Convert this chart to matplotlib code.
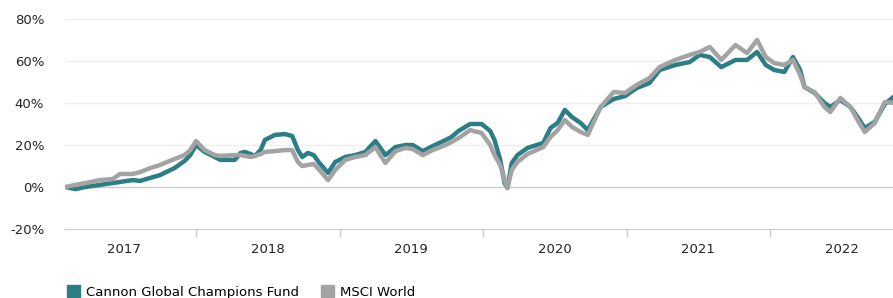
import numpy as np
import matplotlib
matplotlib.use("Agg")
import matplotlib.pyplot as plt
from matplotlib.patches import Patch
from matplotlib.ticker import FuncFormatter

# dates as decimal years, values in % cumulative return
dates = [2017.09, 2017.16, 2017.23, 2017.33, 2017.42, 2017.47, 2017.56, 2017.61, 2017.68, 2017.75,
         2017.78, 2017.85, 2017.92, 2017.96, 2018.00, 2018.06, 2018.13, 2018.17, 2018.27, 2018.31,
         2018.34, 2018.38, 2018.41, 2018.45, 2018.48, 2018.55, 2018.62, 2018.67, 2018.71, 2018.74,
         2018.78, 2018.82, 2018.86, 2018.92, 2018.97, 2019.04, 2019.11, 2019.18, 2019.25, 2019.32,
         2019.39, 2019.46, 2019.51, 2019.58, 2019.65, 2019.74, 2019.78, 2019.83, 2019.91, 2019.99,
         2020.05, 2020.08, 2020.12, 2020.15, 2020.17, 2020.20, 2020.24, 2020.31, 2020.42, 2020.47,
         2020.52, 2020.57, 2020.62, 2020.68, 2020.73, 2020.82, 2020.91, 2020.99, 2021.07, 2021.16,
         2021.23, 2021.34, 2021.44, 2021.51, 2021.58, 2021.66, 2021.76, 2021.84, 2021.91, 2021.97,
         2022.03, 2022.10, 2022.16, 2022.21, 2022.24, 2022.31, 2022.38, 2022.42, 2022.49, 2022.56,
         2022.61, 2022.66, 2022.73, 2022.80, 2022.86]

fund = [0.0, -1.0, 0.0, 1.0, 1.9, 2.4, 3.3, 2.9, 4.3, 5.7,
        6.7, 9.0, 12.4, 15.2, 20.0, 16.7, 14.3, 12.9, 12.9, 16.2,
        16.7, 15.7, 14.8, 17.6, 22.4, 24.8, 25.2, 24.3, 17.6, 14.3,
        16.2, 15.2, 11.4, 6.7, 11.9, 14.3, 15.2, 16.7, 21.9, 15.2,
        19.0, 20.0, 20.0, 17.1, 19.5, 22.4, 23.8, 26.7, 30.0, 30.0,
        26.7, 22.4, 12.9, 1.9, -0.5, 11.4, 15.2, 18.6, 21.0, 28.1,
        30.5, 36.7, 33.3, 30.5, 27.1, 38.1, 41.9, 43.3, 47.1, 49.5,
        55.7, 58.1, 59.5, 62.9, 61.9, 57.1, 60.5, 60.5, 64.3, 58.1,
        55.7, 54.8, 61.9, 55.7, 47.6, 44.8, 40.0, 38.1, 41.4, 38.1,
        33.3, 28.1, 31.0, 39.5, 42.9]

msci = [0.0, 1.0, 1.9, 3.3, 3.8, 6.2, 6.2, 7.1, 9.0, 10.5,
        11.4, 13.3, 15.2, 17.6, 21.9, 17.6, 15.2, 14.8, 15.2, 15.2,
        14.8, 14.3, 14.8, 15.7, 16.7, 17.1, 17.6, 17.6, 11.9, 10.0,
        10.5, 11.0, 8.1, 3.3, 8.1, 12.9, 14.3, 15.2, 19.0, 11.4,
        17.1, 18.6, 18.1, 15.2, 17.6, 20.0, 21.4, 23.3, 27.1, 25.7,
        20.0, 15.2, 10.5, 3.3, -0.5, 8.1, 11.9, 15.7, 19.0, 23.8,
        27.1, 31.9, 28.6, 26.2, 24.8, 38.1, 45.2, 44.8, 48.6, 51.9,
        57.1, 60.5, 62.9, 64.3, 66.7, 60.5, 67.6, 63.8, 70.0, 61.9,
        59.0, 58.1, 60.5, 53.3, 47.6, 45.2, 38.1, 35.7, 42.4, 38.1,
        31.9, 26.2, 30.5, 40.5, 40.0]

years = [2017, 2018, 2019, 2020, 2021, 2022]
fund_name = "Cannon Global Champions Fund"
msci_name = "MSCI World"
teal = "#2b7e85"
grey = "#a3a3a3"

fig = plt.figure(figsize=(8.93, 2.98), dpi=100)
ax = fig.add_axes([65 / 893, 1 - 229 / 298, 1 - 65 / 893, 210 / 298])

ax.plot(dates, fund, color=teal, lw=3.2, solid_joinstyle="round", solid_capstyle="round", zorder=3)
ax.plot(dates, msci, color=grey, lw=3.2, solid_joinstyle="round", solid_capstyle="round", zorder=4)

ax.set_xlim(2017.087, 2022.857)
ax.set_ylim(-20, 80)

ax.set_yticks([-20, 0, 20, 40, 60, 80])
ax.yaxis.set_major_formatter(FuncFormatter(lambda v, p: f"{v:.0f}%"))
for y in [20, 40, 60, 80]:
    ax.axhline(y, color="#efefef", lw=1, zorder=1)
ax.axhline(0, color="#cccccc", lw=1, zorder=1)

# year boundaries as ticks, labels at mid-year
ax.set_xticks(years[1:])
ax.set_xticklabels([])
ax.set_xticks([y + 0.5 for y in years], minor=True)
ax.set_xticklabels([str(y) for y in years], minor=True)
ax.tick_params(axis="x", which="major", length=6, color="#cccccc", width=1)
ax.tick_params(axis="x", which="minor", length=0, pad=10, labelsize=9.5, labelcolor="#222222")
ax.tick_params(axis="y", length=0, pad=15, labelsize=9.5, labelcolor="#222222")

for s in ["top", "right", "left"]:
    ax.spines[s].set_visible(False)
ax.spines["bottom"].set_color("#cccccc")

handles = [Patch(facecolor=teal, edgecolor=teal, label=fund_name),
           Patch(facecolor=grey, edgecolor=grey, label=msci_name)]
fig.legend(handles=handles, loc="center left", bbox_to_anchor=(62 / 893, 1 - 292 / 298),
           ncol=2, frameon=False, fontsize=9.5, handlelength=1.0, handleheight=1.0,
           handletextpad=0.45, columnspacing=1.6, borderaxespad=0)

fig.savefig("out.png", dpi=100)
